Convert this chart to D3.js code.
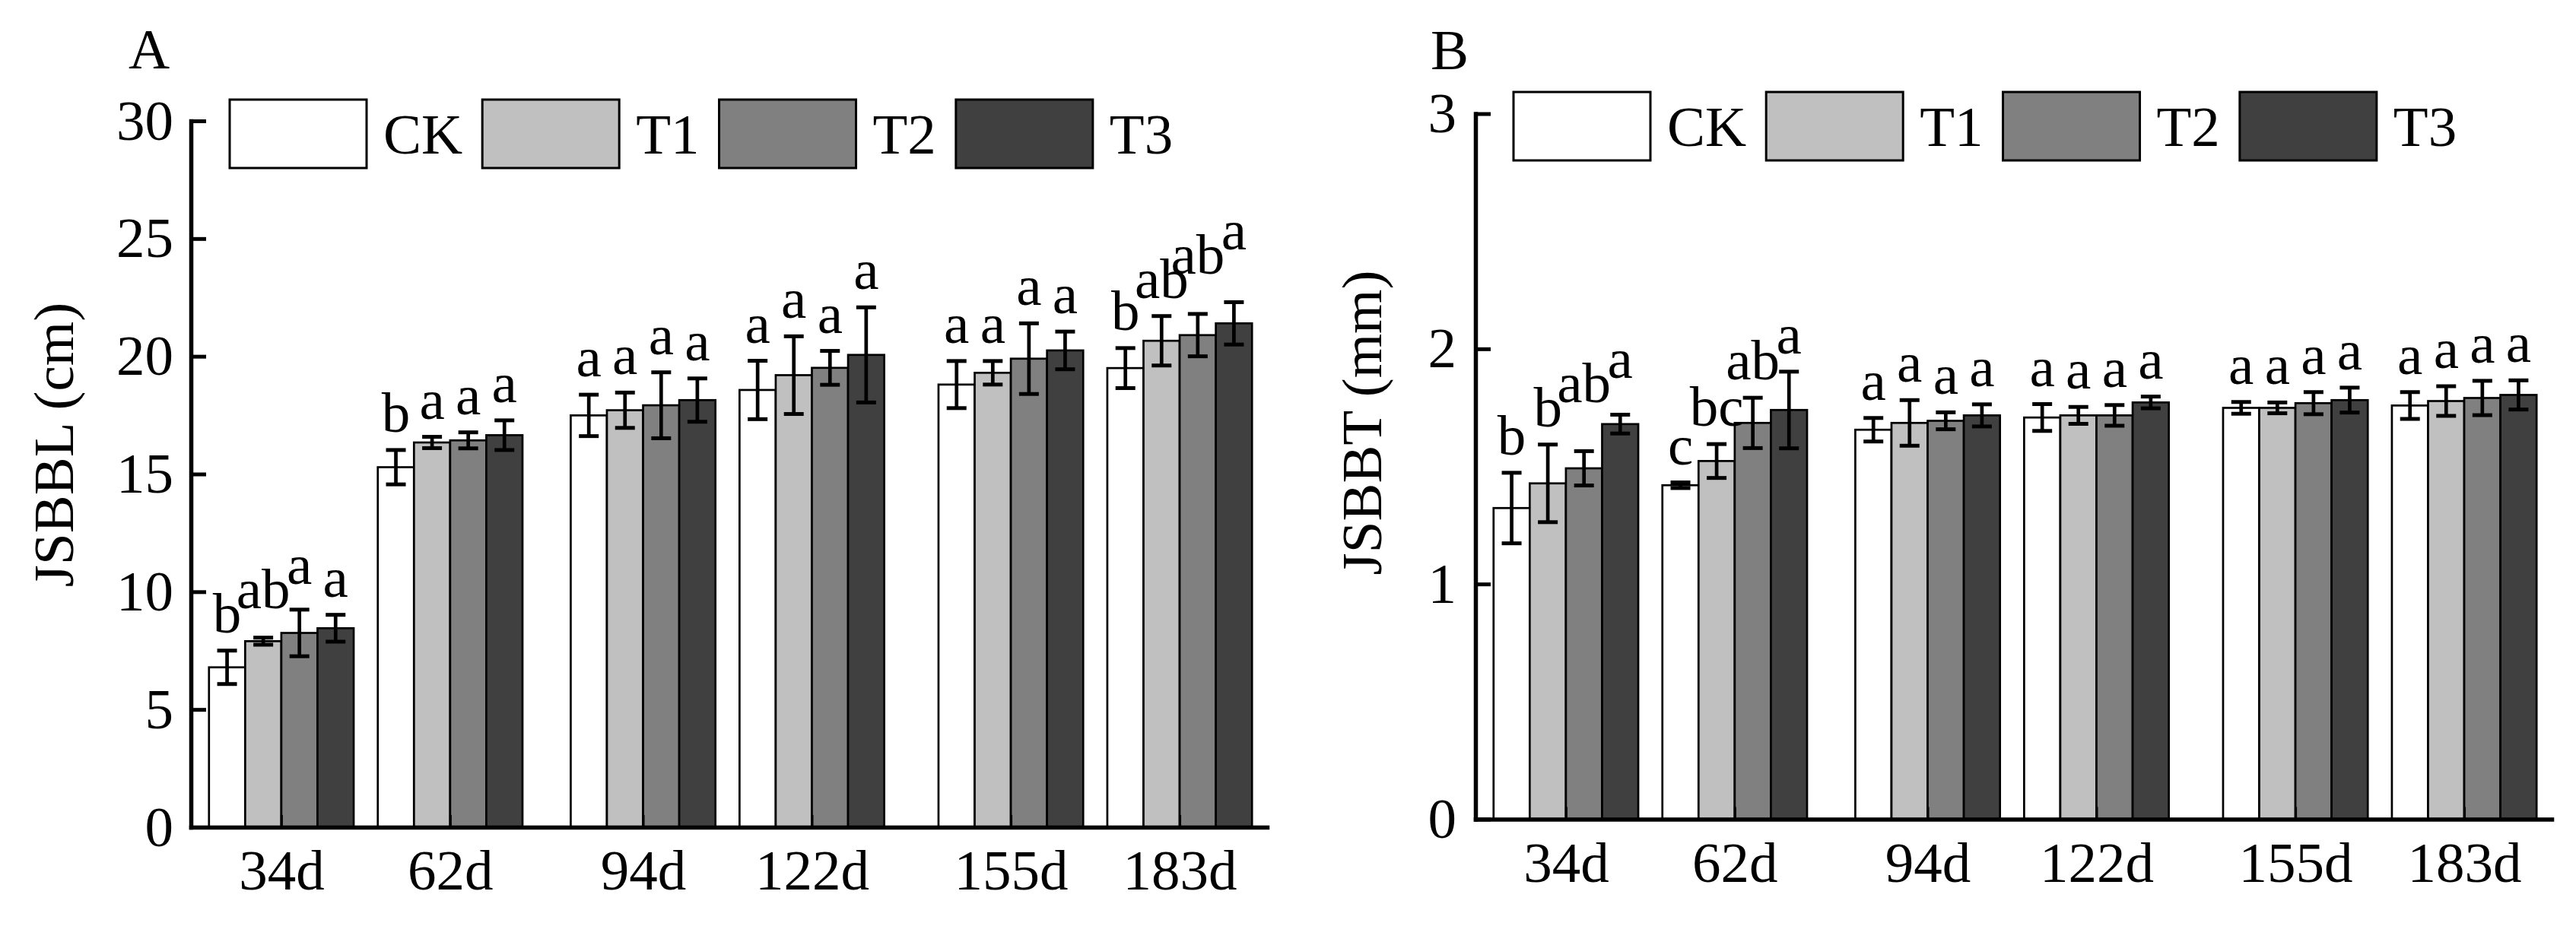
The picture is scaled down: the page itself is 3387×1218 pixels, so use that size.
<!DOCTYPE html>
<html>
<head>
<meta charset="utf-8">
<script src="https://cdn.jsdelivr.net/npm/d3@7"></script>
<style>
  body { margin: 0; background: #fff; }
  svg text { font-family: "Liberation Serif", "Times New Roman", serif; fill: #000; }
</style>
</head>
<body>
<script>
// sampling days and their labels
var days = [34, 62, 94, 122, 155, 183];
var dayLabels = ["34d", "62d", "94d", "122d", "155d", "183d"];
var treatments = ["CK", "T1", "T2", "T3"];
var fills = ["#ffffff", "#c0c0c0", "#808080", "#404040"];

// panel A: JSBBL (cm), rows = CK, T1, T2, T3
var lengthMean = [
  [6.79, 15.29, 17.49, 18.57, 18.80, 19.50],
  [7.90, 16.34, 17.71, 19.20, 19.30, 20.66],
  [8.25, 16.43, 17.92, 19.51, 19.90, 20.90],
  [8.45, 16.65, 18.14, 20.06, 20.25, 21.40]
];
var lengthErr = [
  [0.71, 0.73, 0.88, 1.24, 1.00, 0.85],
  [0.15, 0.24, 0.75, 1.65, 0.50, 1.05],
  [0.99, 0.34, 1.40, 0.72, 1.50, 0.90],
  [0.57, 0.63, 0.92, 2.02, 0.80, 0.90]
];
var lengthLetters = [
  ["b", "b", "a", "a", "a", "b"],
  ["ab", "a", "a", "a", "a", "ab"],
  ["a", "a", "a", "a", "a", "ab"],
  ["a", "a", "a", "a", "a", "a"]
];
var lengthTicks = [0, 5, 10, 15, 20, 25, 30];

// panel B: JSBBT (mm)
var thickMean = [
  [1.323, 1.420, 1.656, 1.708, 1.749, 1.759],
  [1.428, 1.523, 1.685, 1.717, 1.749, 1.778],
  [1.492, 1.685, 1.694, 1.717, 1.769, 1.791],
  [1.680, 1.740, 1.717, 1.772, 1.782, 1.804]
];
var thickErr = [
  [0.150, 0.012, 0.050, 0.057, 0.025, 0.057],
  [0.165, 0.072, 0.097, 0.036, 0.023, 0.063],
  [0.073, 0.107, 0.036, 0.044, 0.047, 0.073],
  [0.040, 0.163, 0.047, 0.025, 0.053, 0.062]
];
var thickLetters = [
  ["b", "c", "a", "a", "a", "a"],
  ["b", "bc", "a", "a", "a", "a"],
  ["ab", "ab", "a", "a", "a", "a"],
  ["a", "a", "a", "a", "a", "a"]
];
var thickTicks = [0, 1, 2, 3];

var W = 3387, H = 1218, FS = 75;

var svg = d3.select("body").append("svg")
  .attr("width", W)
  .attr("height", H)
  .style("display", "block");

svg.append("rect").attr("width", W).attr("height", H).attr("fill", "#fff");

function drawPanel(p) {
  var g = svg.append("g");

  var x = d3.scaleLinear().domain([19, 197.5]).range([p.left, p.right]);
  var y = d3.scaleLinear().domain([0, p.yMax]).range([p.bottom, p.top]);
  var bw = x(25) - x(19); // each column is 6 days wide

  var rows = [];
  treatments.forEach(function(t, i) {
    days.forEach(function(d, j) {
      rows.push({ t: i, j: j, day: d, mean: p.mean[i][j], err: p.err[i][j], letter: p.letters[i][j] });
    });
  });

  function cx(d) { return x(d.day) + (d.t - 1.5) * bw; }

  // bars
  g.selectAll("rect.bar").data(rows).enter().append("rect")
    .attr("class", "bar")
    .attr("x", function(d) { return x(d.day) + (d.t - 2) * bw; })
    .attr("y", function(d) { return y(d.mean); })
    .attr("width", bw)
    .attr("height", function(d) { return y(0) - y(d.mean); })
    .attr("fill", function(d) { return fills[d.t]; })
    .attr("stroke", "#000")
    .attr("stroke-width", 2.7);

  // error bars
  var eb = g.selectAll("g.err").data(rows).enter().append("g").attr("class", "err")
    .attr("stroke", "#000");
  eb.append("line")
    .attr("x1", cx).attr("x2", cx)
    .attr("y1", function(d) { return y(d.mean - d.err); })
    .attr("y2", function(d) { return y(d.mean + d.err); })
    .attr("stroke-width", 4.7);
  [-1, 1].forEach(function(s) {
    eb.append("line")
      .attr("x1", function(d) { return cx(d) - 13; })
      .attr("x2", function(d) { return cx(d) + 13; })
      .attr("y1", function(d) { return y(d.mean + s * d.err); })
      .attr("y2", function(d) { return y(d.mean + s * d.err); })
      .attr("stroke-width", 5);
  });

  // significance letters, lifted when they collide with the left neighbour
  var lab = g.selectAll("text.sig").data(rows).enter().append("text")
    .attr("class", "sig")
    .attr("text-anchor", "middle")
    .attr("font-size", FS)
    .attr("x", cx)
    .text(function(d) { return d.letter; });
  lab.each(function(d) { d.w = this.getComputedTextLength(); });
  days.forEach(function(day, j) {
    var prev = null;
    treatments.forEach(function(t, i) {
      var d = rows[i * days.length + j];
      d.base = y(d.mean + d.err) - 24;
      if (prev) {
        var overlap = (cx(prev) + prev.w / 2) - (cx(d) - d.w / 2);
        if (overlap > 4) d.base = Math.min(d.base, prev.base - 32);
      }
      prev = d;
    });
  });
  lab.attr("y", function(d) { return d.base; });

  // axes
  var xAxis = d3.axisBottom(x)
    .tickValues(days)
    .tickFormat(function(d, i) { return dayLabels[i]; })
    .tickSizeInner(-16)
    .tickSizeOuter(0)
    .tickPadding(29);
  var gx = g.append("g").attr("transform", "translate(0," + p.bottom + ")").call(xAxis);
  gx.attr("font-size", FS).attr("font-family", null);
  gx.select(".domain").attr("stroke-width", 5.5).attr("stroke-linecap", "square");
  gx.selectAll(".tick line").attr("stroke-width", 3);

  var yAxis = d3.axisLeft(y)
    .tickValues(p.ticks)
    .tickFormat(d3.format("d"))
    .tickSizeInner(-20)
    .tickSizeOuter(0)
    .tickPadding(p.tickPad);
  var gy = g.append("g").attr("transform", "translate(" + p.left + ",0)").call(yAxis);
  gy.attr("font-size", FS).attr("font-family", null);
  gy.select(".domain").attr("stroke-width", 5.5).attr("stroke-linecap", "square");
  gy.selectAll(".tick line").attr("stroke-width", 5);

  // axis title
  g.append("text")
    .attr("transform", "translate(" + p.titleX + "," + p.titleY + ") rotate(-90)")
    .attr("text-anchor", "middle")
    .attr("font-size", FS)
    .text(p.title);

  // panel letter
  g.append("text")
    .attr("x", p.tagX).attr("y", p.tagY)
    .attr("text-anchor", "middle")
    .attr("font-size", FS)
    .text(p.tag);

  // legend
  var lx = p.legendX;
  treatments.forEach(function(t, i) {
    g.append("rect")
      .attr("x", lx).attr("y", p.legendY)
      .attr("width", 180).attr("height", 90)
      .attr("fill", fills[i])
      .attr("stroke", "#000")
      .attr("stroke-width", 3);
    var tx = g.append("text")
      .attr("x", lx + 202).attr("y", p.legendY + 71)
      .attr("font-size", FS)
      .text(t);
    lx = lx + 202 + tx.node().getComputedTextLength() + 26;
  });
}

drawPanel({
  left: 251, right: 1666, top: 159, bottom: 1088,
  yMax: 30, ticks: lengthTicks, tickPad: 23,
  mean: lengthMean, err: lengthErr, letters: lengthLetters,
  title: "JSBBL (cm)", titleX: 96, titleY: 585,
  tag: "A", tagX: 196, tagY: 90,
  legendX: 302, legendY: 131
});

drawPanel({
  left: 1940, right: 3355, top: 149.5, bottom: 1077.5,
  yMax: 3, ticks: thickTicks, tickPad: 25,
  mean: thickMean, err: thickErr, letters: thickLetters,
  title: "JSBBT (mm)", titleX: 1816, titleY: 556,
  tag: "B", tagX: 1906, tagY: 91,
  legendX: 1990, legendY: 121
});
</script>
</body>
</html>
